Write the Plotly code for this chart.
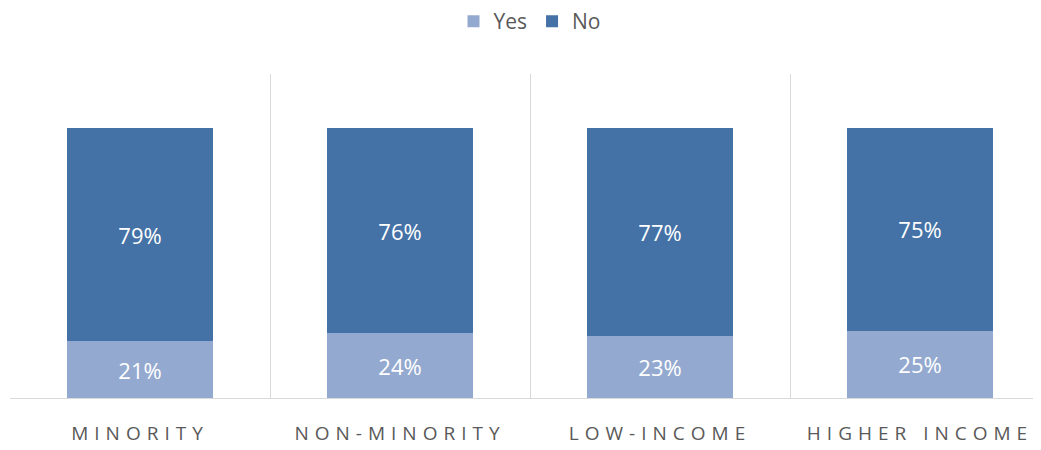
import plotly.graph_objects as go

categories = ["MINORITY", "NON-MINORITY", "LOW-INCOME", "HIGHER INCOME"]
yes_vals = [0.21, 0.24, 0.23, 0.25]
no_vals = [0.79, 0.76, 0.77, 0.75]

x_pos = [i + 0.5 for i in range(len(categories))]
tick_text = ['<span style="letter-spacing:6px">%s</span>' % c for c in categories]

font_family = "Open Sans, Liberation Sans, sans-serif"

fig = go.Figure()
fig.add_trace(go.Bar(
    name="Yes", x=x_pos, y=yes_vals, width=0.56,
    marker=dict(color="#94A9CF", line=dict(width=0)),
    text=["%d%%" % round(v * 100) for v in yes_vals],
    textposition="inside", insidetextanchor="middle",
    textfont=dict(color="white", size=22, family=font_family),
))
fig.add_trace(go.Bar(
    name="No", x=x_pos, y=no_vals, width=0.56,
    marker=dict(color="#4472A6", line=dict(width=0)),
    text=["%d%%" % round(v * 100) for v in no_vals],
    textposition="inside", insidetextanchor="middle",
    textfont=dict(color="white", size=22, family=font_family),
))

fig.update_layout(
    barmode="stack",
    width=1041, height=450,
    margin=dict(l=2, r=0, t=66, b=60),
    paper_bgcolor="white", plot_bgcolor="white",
    font=dict(family=font_family, color="#595959"),
    showlegend=True,
    legend=dict(orientation="h", x=0.5, xanchor="center", y=0.97, yref="container",
                yanchor="middle", font=dict(size=21, color="#595959"),
                itemwidth=30, traceorder="normal"),
    xaxis=dict(
        range=[0, 1039 / 260], tickvals=x_pos, ticktext=tick_text,
        showgrid=False, zeroline=False, showline=False, ticks="",
        ticklabelstandoff=22,
        tickfont=dict(size=19, color="#595959", family=font_family),
        minor=dict(tickvals=[0, 1, 2, 3, 4], showgrid=True, gridcolor="#D9D9D9", gridwidth=1.3, ticks=""),
    ),
    yaxis=dict(
        range=[0, 1.2], showgrid=False, showticklabels=False, zeroline=True,
        zerolinecolor="#D9D9D9", zerolinewidth=1.3, showline=False, ticks="",
    ),
)

fig.write_html("out.html")
